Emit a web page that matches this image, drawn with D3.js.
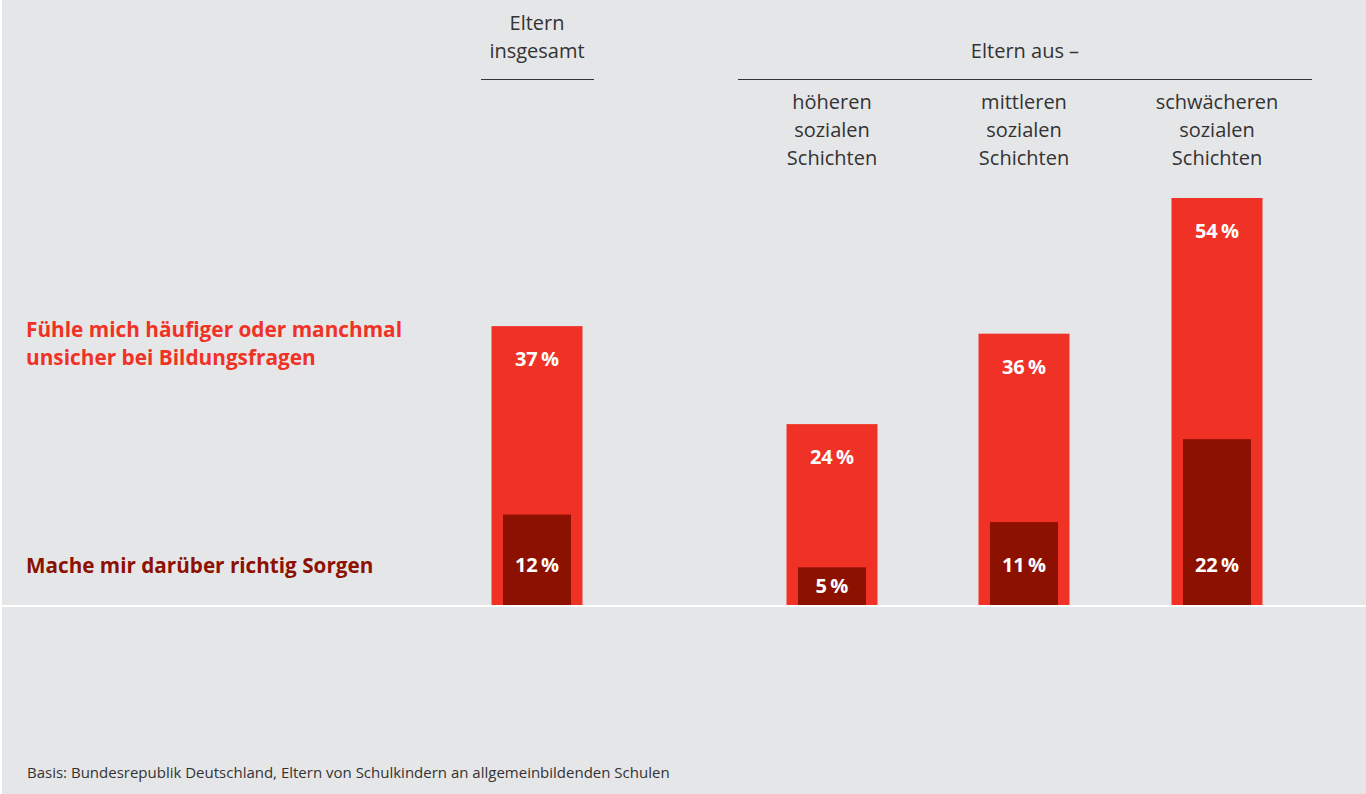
<!DOCTYPE html>
<html>
<head>
<meta charset="utf-8">
<script src="https://d3js.org/d3.v7.min.js"></script>
<style>
  body { margin: 0; background: #fff; }
  svg text { font-family: "Open Sans", "Noto Sans", sans-serif; }
</style>
</head>
<body>
<svg width="1366" height="794"></svg>
<script>
// data
var groups = ["insgesamt", "hoehere", "mittlere", "schwaechere"];
var groupLabels = [["Eltern", "insgesamt"], ["höheren", "sozialen", "Schichten"], ["mittleren", "sozialen", "Schichten"], ["schwächeren", "sozialen", "Schichten"]];
var unsicher = [37, 24, 36, 54];
var sorgen = [12, 5, 11, 22];
var seriesLabels = [["Fühle mich häufiger oder manchmal", "unsicher bei Bildungsfragen"], ["Mache mir darüber richtig Sorgen"]];
var note = "Basis: Bundesrepublik Deutschland, Eltern von Schulkindern an allgemeinbildenden Schulen";

var red = "#f03226", dark = "#8c1100", textCol = "#333333";

var svg = d3.select("svg");
svg.append("rect").attr("x", 2).attr("y", 0).attr("width", 1364).attr("height", 794).attr("fill", "#e5e6e8");

var base = 605;
var centers = d3.scaleOrdinal().domain(groups).range([537, 832, 1024, 1217]);
var y = d3.scaleLinear().domain([0, 54]).range([base, 198]);
var outerW = 91, innerW = 68;

var data = groups.map(function (g, i) { return { g: g, a: unsicher[i], b: sorgen[i] }; });

// outer bars
svg.selectAll(".bar-a").data(data).enter().append("rect")
  .attr("x", function (d) { return centers(d.g) - outerW / 2; })
  .attr("y", function (d) { return y(d.a); })
  .attr("width", outerW)
  .attr("height", function (d) { return base - y(d.a); })
  .attr("fill", red);

svg.selectAll(".bar-b").data(data).enter().append("rect")
  .attr("x", function (d) { return centers(d.g) - innerW / 2; })
  .attr("y", function (d) { return y(d.b); })
  .attr("width", innerW)
  .attr("height", function (d) { return base - y(d.b); })
  .attr("fill", dark);

// value labels
svg.selectAll(".lab-a").data(data).enter().append("text")
  .attr("x", function (d) { return centers(d.g); })
  .attr("y", function (d) { return y(d.a) + 40; })
  .attr("text-anchor", "middle")
  .attr("fill", "#fff").attr("font-weight", "bold").attr("font-size", 20)
  .text(function (d) { return d.a + "\u2009%"; });

svg.selectAll(".lab-b").data(data).enter().append("text")
  .attr("x", function (d) { return centers(d.g); })
  .attr("y", function (d) { return Math.max(572, (y(d.b) + base) / 2 + 7); })
  .attr("text-anchor", "middle")
  .attr("fill", "#fff").attr("font-weight", "bold").attr("font-size", 20)
  .text(function (d) { return d.b + "\u2009%"; });

// baseline
svg.append("rect").attr("x", 2).attr("y", base).attr("width", 1364).attr("height", 2).attr("fill", "#fff");

// header labels
groups.forEach(function (g, i) {
  var lines = groupLabels[i];
  var y0 = i === 0 ? 30 : 109;
  lines.forEach(function (t, j) {
    svg.append("text")
      .attr("x", centers(g)).attr("y", y0 + j * 28)
      .attr("text-anchor", "middle").attr("fill", textCol).attr("font-size", 20)
      .text(t);
  });
});
svg.append("line").attr("x1", 481).attr("x2", 594).attr("y1", 79.5).attr("y2", 79.5).attr("stroke", textCol).attr("stroke-width", 1);
svg.append("line").attr("x1", 738).attr("x2", 1312).attr("y1", 79.5).attr("y2", 79.5).attr("stroke", textCol).attr("stroke-width", 1);
svg.append("text").attr("x", 1025).attr("y", 58).attr("text-anchor", "middle")
  .attr("fill", textCol).attr("font-size", 20).text("Eltern aus \u2013");

// series labels
seriesLabels[0].forEach(function (t, j) {
  svg.append("text").attr("x", 26).attr("y", 337 + j * 28)
    .attr("fill", red).attr("font-weight", "bold").attr("font-size", 20.8).text(t);
});
svg.append("text").attr("x", 26).attr("y", 573)
  .attr("fill", dark).attr("font-weight", "bold").attr("font-size", 20.7).text(seriesLabels[1][0]);

svg.append("text").attr("x", 27).attr("y", 778)
  .attr("fill", textCol).attr("font-size", 15).text(note);
</script>
</body>
</html>
